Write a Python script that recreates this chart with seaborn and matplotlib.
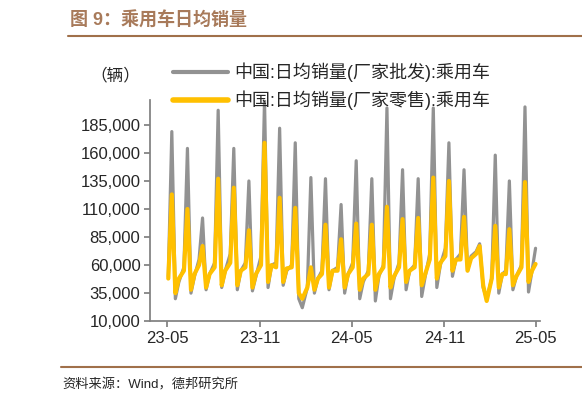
import matplotlib
matplotlib.use("Agg")
import matplotlib.pyplot as plt
import matplotlib.dates as mdates
import seaborn as sns
import pandas as pd
import numpy as np

# weekly points: 4 per month (pre, spike, low, mid), May-23 .. Apr-25, plus one final point
wholesale = [
    50, 179, 30, 45,
    58, 164, 35, 50,
    65, 102, 38, 52,
    62, 198, 40, 55,
    70, 164, 38, 55,
    62, 135, 37, 50,
    68, 207, 40, 60,
    62, 182, 42, 55,
    60, 169, 30, 22,
    40, 138, 35, 48,
    55, 137, 38, 55,
    58, 114, 35, 52,
    62, 153, 30, 45,
    55, 137, 28, 50,
    60, 200, 30, 48,
    62, 145, 38, 55,
    60, 137, 32, 50,
    70, 200, 40, 60,
    75, 169, 50, 65,
    70, 145, 55, 68,
    72, 79, 40, 30,
    48, 158, 35, 52,
    55, 135, 38, 50,
    60, 201, 36, 55,
    75,
]
retail = [
    48, 123, 35, 48,
    55, 110, 38, 52,
    60, 77, 40, 52,
    58, 137, 42, 55,
    62, 129, 42, 55,
    58, 91, 40, 52,
    60, 169, 45, 60,
    58, 120, 45, 57,
    58, 111, 35, 30,
    40, 58, 38, 48,
    52, 96, 40, 55,
    55, 83, 40, 52,
    58, 97, 38, 48,
    52, 96, 38, 52,
    58, 112, 40, 50,
    58, 101, 45, 55,
    58, 102, 42, 52,
    65, 138, 48, 62,
    68, 135, 55, 65,
    65, 103, 55, 66,
    70, 77, 42, 28,
    48, 95, 40, 52,
    52, 92, 42, 50,
    58, 134, 45, 55,
    61,
]
months = pd.date_range("2023-05-01", "2025-04-01", freq="MS")
dates = []
for m in months:
    for d in (3, 10, 17, 24):
        dates.append(m + pd.Timedelta(days=d - 1))
dates.append(pd.Timestamp("2025-05-01"))

label_w = "中国:日均销量(厂家批发):乘用车"
label_r = "中国:日均销量(厂家零售):乘用车"
df = pd.DataFrame({"date": dates, label_w: np.array(wholesale) * 1000, label_r: np.array(retail) * 1000})
long = df.melt(id_vars="date", var_name="series", value_name="value")

sns.set_theme(style="white")
plt.rcParams["font.family"] = ["Liberation Sans", "Noto Sans CJK SC", "DejaVu Sans"]

fig = plt.figure(figsize=(5.82, 4.04), dpi=100)
ax = fig.add_axes([0.258, 0.205, 0.67, 0.547])
sns.lineplot(data=long, x="date", y="value", hue="series",
             palette={label_w: "#929292", label_r: "#FFC000"}, ax=ax, legend=False)
ax.lines[0].set_linewidth(2.3)
ax.lines[1].set_linewidth(3.0)

ax.set_xlim(pd.Timestamp("2023-03-28"), pd.Timestamp("2025-05-10"))
ax.set_ylim(10000, 207000)
ax.set_yticks(np.arange(10000, 185001, 25000))
ax.yaxis.set_major_formatter(matplotlib.ticker.StrMethodFormatter("{x:,.0f}"))
ax.set_xticks(pd.to_datetime(["2023-05-01", "2023-11-01", "2024-05-01", "2024-11-01", "2025-05-01"]))
ax.xaxis.set_major_formatter(mdates.DateFormatter("%y-%m"))
ax.set_xlabel("")
ax.set_ylabel("")
for s in ("top", "right"):
    ax.spines[s].set_visible(False)
for s in ("left", "bottom"):
    ax.spines[s].set_color("#808080")
ax.tick_params(axis="both", direction="out", length=4, color="#808080", labelsize=12, pad=3, left=True, bottom=True)

handles = [plt.Line2D([], [], color="#929292", lw=3), plt.Line2D([], [], color="#FFC000", lw=4)]
fig.legend(handles, [label_w, label_r], loc="upper left", bbox_to_anchor=(0.27, 0.885),
           frameon=False, fontsize=13, handlelength=3.0, labelspacing=0.45, handletextpad=0.35)
fig.text(0.155, 0.8, "（辆）", fontsize=12)

fig.text(0.12, 0.95, "图 9：乘用车日均销量", fontsize=13, fontweight="bold", color="#a87a5a", va="center")
fig.add_artist(plt.Line2D([0.117, 1.0], [0.91, 0.91], color="#a0704a", lw=1.5))
fig.add_artist(plt.Line2D([0.105, 1.0], [0.092, 0.092], color="#a0704a", lw=1.5))
fig.text(0.108, 0.047, "资料来源：Wind，德邦研究所", fontsize=9.5, va="center")

fig.savefig("out.png", dpi=100)
